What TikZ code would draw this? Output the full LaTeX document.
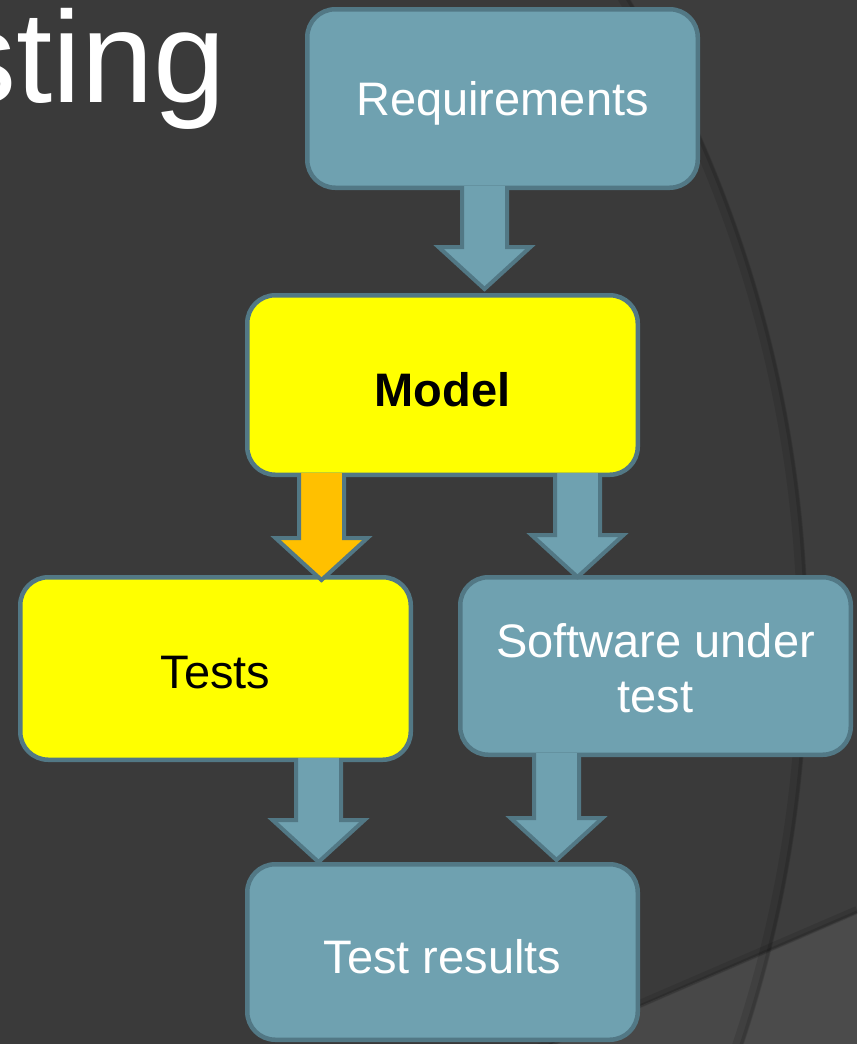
\documentclass[tikz,border=0pt]{standalone}
\usepackage{fontspec}
\setmainfont{Liberation Sans}
\usetikzlibrary{calc}
\definecolor{bg}{HTML}{3A3A3A}
\definecolor{tealfill}{HTML}{6FA1B0}
\definecolor{tealline}{HTML}{527885}
\definecolor{hiyellow}{HTML}{FFFF00}
\definecolor{amber}{HTML}{FFC000}
\newcommand\blockarrow[3][tealfill]{%
  \filldraw[arrowline, fill=#1] let \p1=(#2), \p2=(#3) in
   (\x1-22.5pt,\y1) -- (\x1-22.5pt,\y2+42pt) -- (\x1-46pt,\y2+42pt) -- (\x2,\y2)
   -- (\x1+46pt,\y2+42pt) -- (\x1+22.5pt,\y2+42pt) -- (\x1+22.5pt,\y1);}
\newcommand\lowtxt[2][4.5pt]{\raisebox{-#1}[\height][\depth]{#2}}
\begin{document}
\begin{tikzpicture}[x=1pt,y=-1pt,
  box/.style={draw=tealline, line width=4.5pt, rounded corners=28pt,
    minimum width=390.5pt, inner sep=0pt, align=center,
    font=\fontsize{47}{55}\selectfont, text=white, fill=tealfill},
  ybox/.style={fill=hiyellow, text=black},
  arrowline/.style={draw=tealline, line width=4pt, line join=miter}]
\useasboundingbox (0,0) rectangle (857,1044);
\begin{scope}
\clip (0,0) rectangle (857,1044);
\fill[bg] (0,0) rectangle (857,1044);
% region outside the big arc
\fill[white, opacity=0.02, even odd rule] (0,0) rectangle (857,1044) (-451.7,645.2) circle[radius=1259.5];
% lighter lower-right wedge
\fill[white, opacity=0.075] (857,913) -- (500,1066) -- (857,1066) -- cycle;
% shadows
\draw[black, opacity=0.10, line width=10pt] (-451.7,645.2) circle[radius=1254];
\draw[black, opacity=0.12, line width=4pt] (-451.7,645.2) circle[radius=1258];
\draw[black, opacity=0.10, line width=8pt] (480,1073) -- (857,910);
\draw[black, opacity=0.12, line width=3pt] (480,1075) -- (857,912);
% title
\node[anchor=base east, inner sep=0pt, text=white, font=\fontsize{130}{150}\selectfont] (title) at (226,102) {sting};
\end{scope}
% boxes
\node[box, minimum height=178.5pt] (req) at (502.5,98.5) {\lowtxt{Requirements}};
\node[box, ybox, minimum height=179.5pt] (model) at (442.5,385) {\lowtxt{\bfseries Model}};
\node[box, ybox, minimum height=182.5pt] (tests) at (215.5,668.5) {\lowtxt{Tests}};
\node[box, minimum height=177.5pt] (sut) at (655.5,666) {\lowtxt[7.5pt]{\begin{tabular}{@{}c@{}}Software under\\test\end{tabular}}};
\node[box, minimum height=175.5pt] (res) at (442.5,952) {\lowtxt{Test results}};
% arrow columns
\coordinate (c1) at (484.5,0);
\coordinate (c2) at (321.5,0);
\coordinate (c3) at (577.5,0);
\coordinate (c4) at (318.5,0);
\coordinate (c5) at (556.5,0);
\blockarrow{$(c1 |- req.south)+(0,-4)$}{$(c1 |- model.north)+(0,-4)$}
\blockarrow[amber]{$(c2 |- model.south)+(0,-4)$}{$(c2 |- tests.north)+(0,5)$}
\blockarrow{$(c3 |- model.south)+(0,-4)$}{$(c3 |- sut.north)+(0,2)$}
\blockarrow{$(c4 |- tests.south)+(0,-4)$}{$(c4 |- res.north)+(0,0)$}
\blockarrow{$(c5 |- sut.south)+(0,-4)$}{$(c5 |- res.north)+(0,-2)$}
\end{tikzpicture}
\end{document}
